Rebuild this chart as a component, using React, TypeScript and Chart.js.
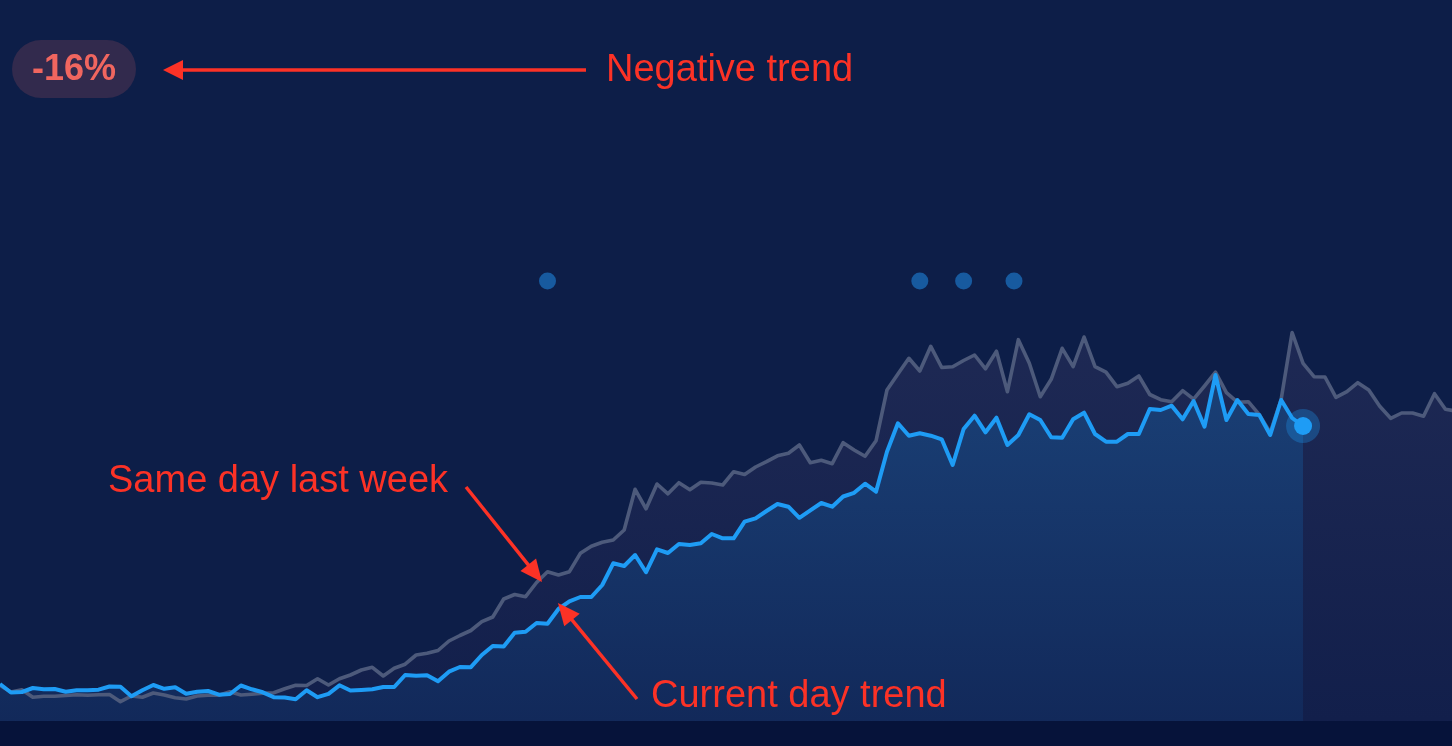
import React, { useEffect, useRef } from "react";
import { Chart, registerables } from "chart.js";

Chart.register(...registerables);

// ---- data ----
const currentDay: number[] = [
  37, 28.5, 29, 33, 31.7, 32, 29.3, 30.7, 30.7, 31.3,
  34.5, 34.2, 24.7, 30.7, 36, 32.2, 33.8, 27.3, 29.2, 30,
  26.3, 27, 35.5, 31.7, 28.7, 23.8, 23.5, 21.8, 30.7, 23.8,
  27.2, 35.7, 30.5, 31, 31.7, 34, 34, 46, 45.2, 45.7,
  39.7, 49.3, 54, 53.8, 66, 75, 74.5, 88.3, 89.3, 98,
  97.2, 112, 119.7, 124, 124, 136, 157.7, 155, 166, 148.8,
  171.7, 168, 177, 176, 177.7, 187, 182.7, 182.7, 199.3, 202.7,
  210, 217, 214.3, 203.2, 210.7, 218, 214.3, 224.5, 228.2, 237.3,
  229.3, 269.3, 297.7, 285.3, 287.7, 285.3, 281.7, 256, 292, 305.3,
  288.7, 303.3, 276, 286, 306.7, 301, 283.7, 283.3, 301.7, 308.3,
  287, 279.3, 279.3, 287, 287, 312, 311, 315.3, 301.7, 320,
  294.3, 346, 301, 321, 307, 306, 286, 321, 303, 295,
];

const lastWeek: number[] = [
  35.5, 29, 31.3, 23.8, 24.8, 24.7, 25.5, 26.3, 25.7, 26.2,
  26.5, 19.3, 25, 23.7, 28, 26, 23.2, 22, 25, 25.8,
  25.8, 29.3, 26, 26.8, 27.7, 28.3, 32.3, 35.8, 35.5, 42.3,
  36, 42.2, 46, 51, 53.7, 45, 52.7, 56.8, 66, 67.7,
  70.5, 80, 85.5, 90.5, 99.3, 104, 122, 126.5, 124.3, 138.5,
  149.3, 146, 149.3, 167.7, 174.7, 178.8, 181, 191, 231.7, 212.2,
  237, 227.2, 238.3, 231.3, 238.8, 238, 236, 249.3, 246.5, 254,
  259.3, 265.2, 267.7, 276, 258.3, 260.7, 257.3, 278.3, 271, 264.7,
  280.2, 331, 347, 362.7, 350, 374.7, 353.5, 354.3, 360.5, 366,
  352.2, 369.8, 329.3, 381.3, 357.7, 324.3, 341.7, 372.7, 354.3, 384,
  354.3, 348.8, 334.3, 337.7, 345, 326.5, 321.3, 319.3, 330.3, 321.8,
  335, 348.8, 328.3, 318.8, 319.3, 306.3, 288.5, 321.8, 388.5, 357.7,
  344.3, 344, 323.7, 329.3, 338.3, 331, 314.8, 302.7, 308, 308,
  304.8, 327.3, 311.7, 310,
];

const eventPositions: number[] = [50, 84, 88, 92.6];
const eventLevel = 440;

const badgeLabel = "-16%";
const negativeLabel = "Negative trend";
const lastWeekLabel = "Same day last week";
const currentLabel = "Current day trend";

const X_MAX = 132.6;
const Y_MAX = 721;

const FONT = '"Liberation Sans", Arial, Helvetica, sans-serif';
const RED = "#fc3226";

function drawArrow(
  ctx: CanvasRenderingContext2D,
  x1: number, y1: number, x2: number, y2: number,
  headLen = 21, headW = 10
) {
  const dx = x2 - x1, dy = y2 - y1;
  const len = Math.hypot(dx, dy);
  const ux = dx / len, uy = dy / len;
  const bx = x2 - ux * headLen, by = y2 - uy * headLen;
  ctx.beginPath();
  ctx.moveTo(x1, y1);
  ctx.lineTo(bx + ux * 2, by + uy * 2);
  ctx.stroke();
  ctx.beginPath();
  ctx.moveTo(x2, y2);
  ctx.lineTo(bx - uy * headW, by + ux * headW);
  ctx.lineTo(bx + uy * headW, by - ux * headW);
  ctx.closePath();
  ctx.fill();
}

const backgroundPlugin = {
  id: "pageBackground",
  beforeDraw(chart: any) {
    const { ctx, width, height, chartArea } = chart;
    ctx.save();
    ctx.fillStyle = "#0d1e48";
    ctx.fillRect(0, 0, width, height);
    ctx.fillStyle = "#06133a";
    ctx.fillRect(0, chartArea.bottom, width, height - chartArea.bottom);
    ctx.restore();
  },
};

const annotationPlugin = {
  id: "annotations",
  afterDraw(chart: any) {
    const ctx: CanvasRenderingContext2D = chart.ctx;
    ctx.save();

    // badge
    const bx = 12, by = 40, bw = 124, bh = 58, r = 29;
    ctx.fillStyle = "#322a4d";
    ctx.beginPath();
    ctx.moveTo(bx + r, by);
    ctx.lineTo(bx + bw - r, by);
    ctx.arc(bx + bw - r, by + r, r, -Math.PI / 2, Math.PI / 2);
    ctx.lineTo(bx + r, by + bh);
    ctx.arc(bx + r, by + r, r, Math.PI / 2, (3 * Math.PI) / 2);
    ctx.closePath();
    ctx.fill();
    ctx.fillStyle = "#f0665f";
    ctx.font = `bold 36px ${FONT}`;
    ctx.textAlign = "center";
    ctx.textBaseline = "middle";
    ctx.fillText(badgeLabel, bx + bw / 2, by + bh / 2 + 1);

    // arrows
    ctx.strokeStyle = RED;
    ctx.fillStyle = RED;
    ctx.lineWidth = 3.5;
    ctx.lineCap = "butt";
    drawArrow(ctx, 586, 70, 163, 70, 20, 10);
    drawArrow(ctx, 466, 487, 542, 582, 22, 10);
    drawArrow(ctx, 637, 699, 558, 603, 22, 10);

    // labels
    ctx.font = `38px ${FONT}`;
    ctx.textAlign = "left";
    ctx.textBaseline = "middle";
    ctx.fillText(negativeLabel, 606, 71);
    ctx.fillText(lastWeekLabel, 108, 482);
    ctx.fillText(currentLabel, 651, 697);

    ctx.restore();
  },
};

export default function App() {
  const canvasRef = useRef<HTMLCanvasElement | null>(null);

  useEffect(() => {
    const canvas = canvasRef.current;
    if (!canvas) return;

    const blueFill = (c: any) => {
      const { chart } = c;
      const area = chart.chartArea;
      if (!area) return "rgba(22,52,102,1)";
      const g = chart.ctx.createLinearGradient(0, 370, 0, area.bottom);
      g.addColorStop(0, "rgb(26,64,118)");
      g.addColorStop(1, "rgb(18,41,90)");
      return g;
    };
    const grayFill = (c: any) => {
      const { chart } = c;
      const area = chart.chartArea;
      if (!area) return "rgba(26,36,78,1)";
      const g = chart.ctx.createLinearGradient(0, 330, 0, area.bottom);
      g.addColorStop(0, "rgb(30,41,84)");
      g.addColorStop(1, "rgb(18,31,75)");
      return g;
    };

    const lastIdx = currentDay.length - 1;

    const chart = new Chart(canvas, {
      type: "line",
      data: {
        datasets: [
          {
            type: "scatter",
            label: "now-dot",
            data: [{ x: lastIdx, y: currentDay[lastIdx] }],
            pointRadius: 9,
            pointBackgroundColor: "#1e9cf5",
            pointBorderWidth: 0,
            showLine: false,
            order: 0,
          } as any,
          {
            type: "scatter",
            label: "now-halo",
            data: [{ x: lastIdx, y: currentDay[lastIdx] }],
            pointRadius: 17,
            pointBackgroundColor: "rgba(30,156,245,0.3)",
            pointBorderWidth: 0,
            showLine: false,
            order: 1,
          } as any,
          {
            label: "Current day trend",
            data: currentDay.map((v, i) => ({ x: i, y: v })),
            borderColor: "#1e9cf5",
            borderWidth: 4,
            backgroundColor: blueFill,
            fill: "origin",
            pointRadius: 0,
            tension: 0,
            borderJoinStyle: "round",
            order: 2,
          },
          {
            label: "Same day last week",
            data: lastWeek.map((v, i) => ({ x: i, y: v })),
            borderColor: "#4d5a7b",
            borderWidth: 3.6,
            backgroundColor: grayFill,
            fill: "origin",
            pointRadius: 0,
            tension: 0,
            borderJoinStyle: "round",
            order: 3,
          },
          {
            type: "scatter",
            label: "events",
            data: eventPositions.map((x) => ({ x, y: eventLevel })),
            pointRadius: 8.5,
            pointBackgroundColor: "#175a9f",
            pointBorderWidth: 0,
            showLine: false,
            order: 4,
          } as any,
        ],
      },
      options: {
        animation: false,
        responsive: true,
        maintainAspectRatio: false,
        events: [],
        layout: {
          autoPadding: false,
          padding: { left: 0, right: 0, top: 0, bottom: 25 },
        } as any,
        scales: {
          x: { type: "linear", min: 0, max: X_MAX, display: false },
          y: { type: "linear", min: 0, max: Y_MAX, display: false },
        },
        plugins: {
          legend: { display: false },
          tooltip: { enabled: false },
          filler: { drawTime: "beforeDatasetsDraw" } as any,
        },
      },
      plugins: [backgroundPlugin, annotationPlugin],
    });

    return () => chart.destroy();
  }, []);

  return (
    <div
      style={{
        position: "fixed",
        left: 0,
        top: 0,
        width: 1452,
        height: 746,
        background: "#0d1e48",
      }}
    >
      <canvas ref={canvasRef} />
    </div>
  );
}
